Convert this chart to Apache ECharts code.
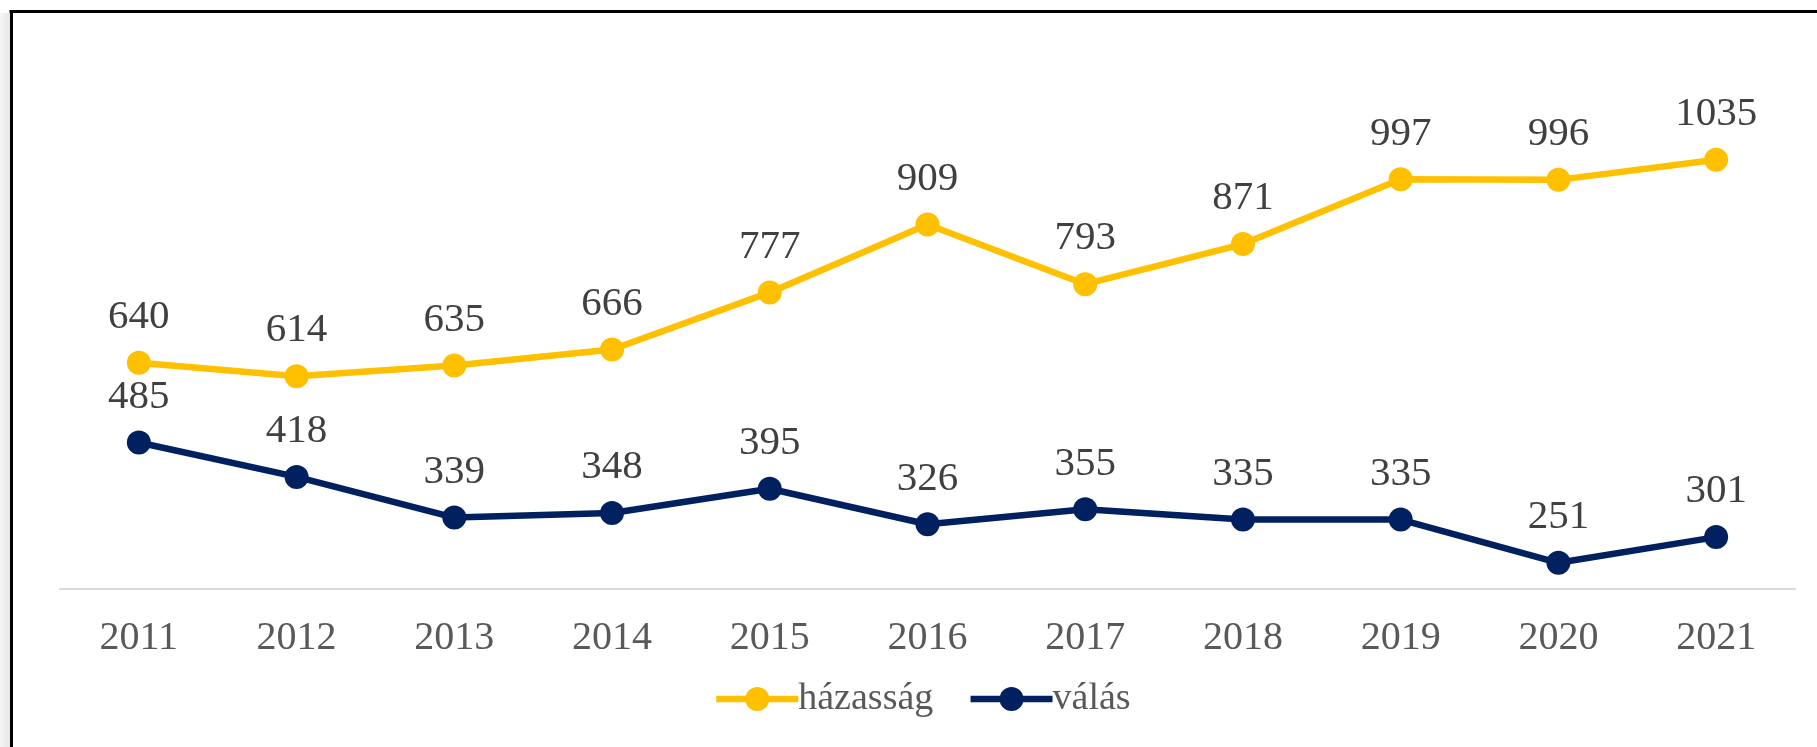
<!DOCTYPE html>
<html>
<head>
<meta charset="utf-8">
<script src="https://cdn.jsdelivr.net/npm/echarts@6/dist/echarts.min.js"></script>
<style>
  html, body { margin: 0; padding: 0; background: #fff; }
  #chart { width: 1817px; height: 747px; }
</style>
</head>
<body>
<div id="chart"></div>
<script>
// évek
const years = ['2011', '2012', '2013', '2014', '2015', '2016', '2017', '2018', '2019', '2020', '2021']
// házasságkötések
const marriages = [640, 614, 635, 666, 777, 909, 793, 871, 997, 996, 1035]
// válások
const divorces = [485, 418, 339, 348, 395, 326, 355, 335, 335, 251, 301]

const serif = '"Liberation Serif", "Times New Roman", serif'

const chart = echarts.init(document.getElementById('chart'))

function lineSeries (name, color, data) {
  return {
    name,
    type: 'line',
    data,
    symbol: 'circle',
    symbolSize: 24,
    lineStyle: { color, width: 6.5 },
    itemStyle: { color },
    label: {
      show: true,
      position: 'top',
      distance: 13,
      color: '#404040',
      fontFamily: serif,
      fontSize: 41
    },
    emphasis: { disabled: true },
    animation: false
  }
}

chart.setOption({
  grid: {
    left: 60,
    right: 22,
    top: 75,
    bottom: 158
  },
  legend: {
    left: 708,
    top: 675,
    itemWidth: 82,
    itemHeight: 30,
    itemGap: 34,
    lineStyle: { width: 6.5 },
    textStyle: {
      color: '#595959',
      fontFamily: serif,
      fontSize: 38,
      padding: [0, 0, 0, -5]
    },
    data: ['házasság', 'válás']
  },
  xAxis: {
    type: 'category',
    data: years,
    axisTick: { show: false },
    axisLine: { lineStyle: { color: '#d9d9d9', width: 2 } },
    axisLabel: {
      color: '#595959',
      fontFamily: serif,
      fontSize: 40,
      margin: 29
    }
  },
  yAxis: {
    type: 'value',
    min: 200,
    max: 1200,
    show: false,
    splitLine: { show: false }
  },
  graphic: [
    {
      type: 'rect',
      shape: { x: 0, y: 13, width: 10, height: 734 },
      style: {
        fill: new echarts.graphic.LinearGradient(0, 0, 1, 0, [
          { offset: 0, color: '#f6f6f6' },
          { offset: 1, color: '#e6e6e6' }
        ])
      },
      silent: true
    },
    {
      type: 'line',
      shape: { x1: 9.5, y1: 11.5, x2: 1817, y2: 11.5 },
      style: { stroke: '#000', lineWidth: 3 },
      silent: true
    },
    {
      type: 'line',
      shape: { x1: 11.5, y1: 10, x2: 11.5, y2: 747 },
      style: { stroke: '#000', lineWidth: 3 },
      silent: true
    }
  ],
  series: [
    lineSeries('házasság', '#FFC000', marriages),
    lineSeries('válás', '#002060', divorces)
  ]
})
</script>
</body>
</html>
